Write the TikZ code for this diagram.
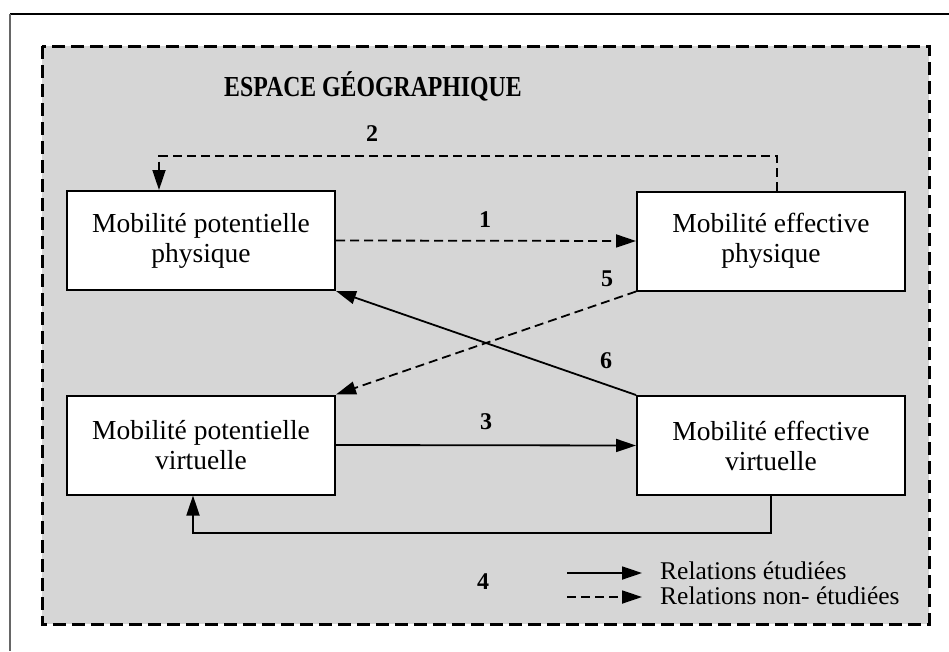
\documentclass[tikz,border=0pt]{standalone}
\usepackage{fontspec}
\usepackage{graphicx}
\setmainfont{Liberation Serif}
\usetikzlibrary{arrows.meta}
\definecolor{bggray}{RGB}{214,214,214}
\begin{document}
\begin{tikzpicture}[x=1pt,y=-1pt,
  box/.style={draw, line width=2pt, fill=white, minimum width=268pt, minimum height=99pt, align=center, inner sep=0pt, font=\fontsize{27.5}{30}\selectfont},
  num/.style={anchor=base, inner sep=0pt, font=\bfseries\fontsize{24}{24}\selectfont},
  legtext/.style={anchor=base west, inner sep=0pt, font=\fontsize{25.5}{25.5}\selectfont},
  link/.style={line width=1.8pt, -{Triangle[length=20pt,width=13pt]}},
  dlink/.style={link, dash pattern=on 9pt off 5pt},
]
\useasboundingbox (0,0) rectangle (949,651);
% outer frame
\draw[line width=1.4pt, black] (10,14) -- (949,14);
\draw[line width=1.4pt, gray!80!black] (10,14) -- (10,651);
% geographic space
\fill[bggray] (42,46) rectangle (929,624);
\draw[line width=3pt, dash pattern=on 13pt off 6pt] (42,46) rectangle (929,624);
\node[anchor=base, inner sep=0pt, font=\bfseries\fontsize{29}{29}\selectfont] (title) at (373,96) {\scalebox{0.82}[1]{ESPACE GÉOGRAPHIQUE}};
% boxes
\node[box] (b1) at (201,240.5) {Mobilité potentielle\\physique};
\node[box] (b2) at (771,241) {Mobilité effective\\physique};
\node[box] (b3) at (201,445) {Mobilité potentielle\\virtuelle};
\node[box] (b4) at (771,445.5) {Mobilité effective\\virtuelle};
% connectors
\coordinate (c2) at (159,156);
\draw[dlink] (b1.east) -- (b2.west);
\draw[dlink] ([xshift=6pt]b2.north) |- (c2) -- ([xshift=-42pt]b1.north);
\draw[link] (b3.east) -- (b4.west);
\draw[link] (b4.south) -- ++(0,37) -| ([xshift=-8pt]b3.south);
\draw[dlink] (b2.south west) -- (b3.north east);
\draw[link] (b4.north west) -- (b1.south east);
% labels
\node[num] (n1) at (485,227) {1};
\node[num] (n2) at (372,141) {2};
\node[num] (n3) at (486,429) {3};
\node[num] (n4) at (483,589) {4};
\node[num] (n5) at (607,286) {5};
\node[num] (n6) at (606,368) {6};
% legend
\node[legtext] (lt1) at (660,579) {Relations étudiées};
\node[legtext] (lt2) at (660,604) {Relations non- étudiées};
\coordinate (ls1) at (567,573);
\coordinate (ls2) at (567,597);
\draw[link] (ls1) -- ([xshift=-18pt]lt1.west |- ls1);
\draw[dlink] (ls2) -- ([xshift=-18pt]lt2.west |- ls2);
\end{tikzpicture}
\end{document}
